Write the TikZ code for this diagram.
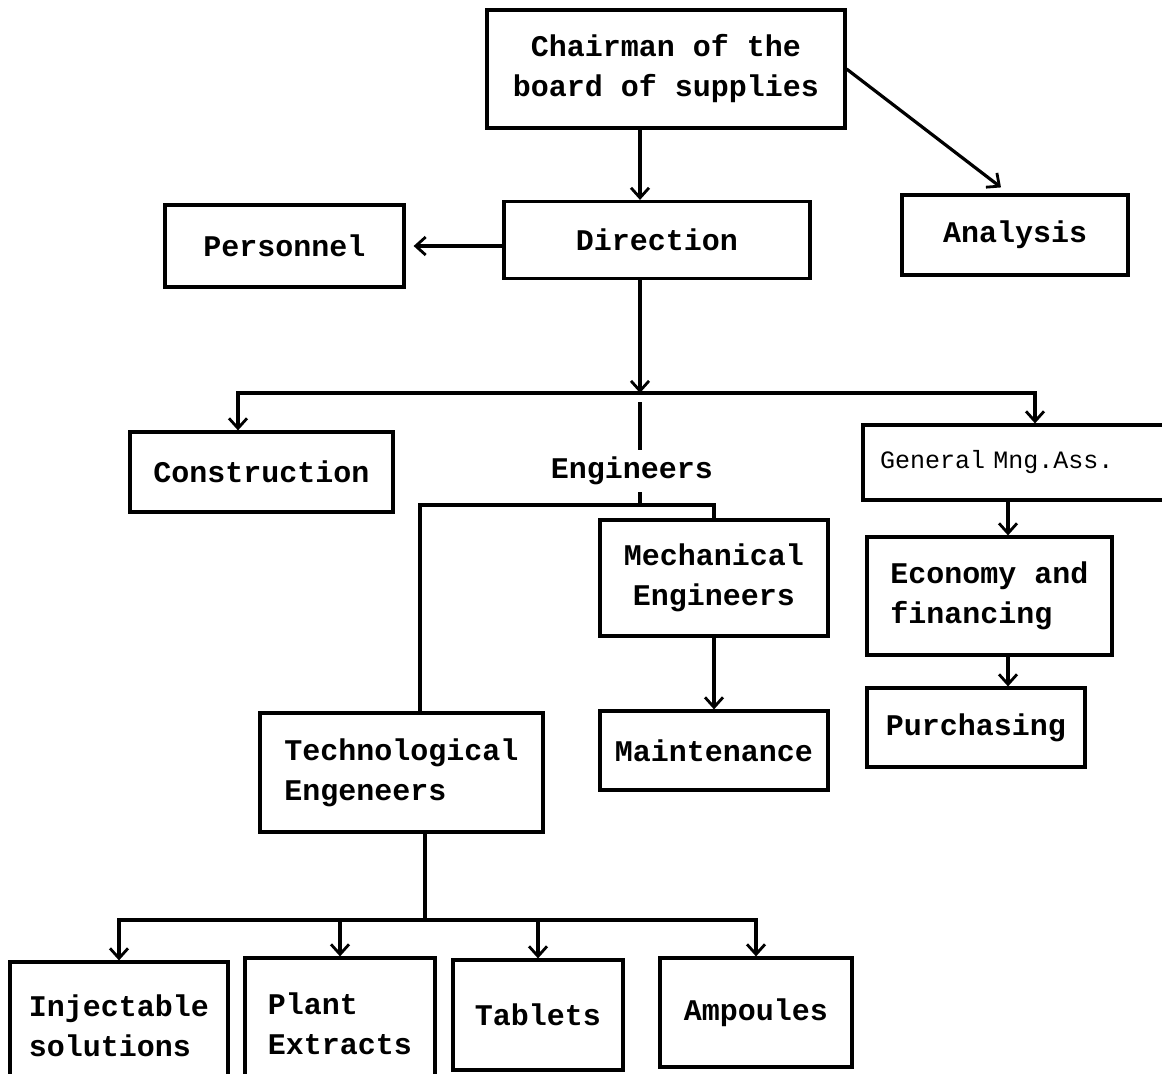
\documentclass[tikz,border=0pt]{standalone}
\usepackage{fontspec}
\setmainfont{Liberation Mono}
\usetikzlibrary{arrows.meta}

\begin{document}
\begin{tikzpicture}[x=0.5pt,y=-0.5pt,
  every node/.style={font=\bfseries\fontsize{15}{20}\selectfont, align=center},
  unit/.style={draw, line width=1.6pt, inner sep=0pt},
  link/.style={line width=1.6pt},
  arr/.style={link, -{Straight Barb[length=5pt,width=9pt,line width=1.4pt]}}]
  \useasboundingbox (0,0) rectangle (1162,1073);
  % top of the chart
  \node[unit, minimum width=179pt, minimum height=59pt] (chair) at (666,69) {Chairman of the\\board of supplies};
  \node[unit, minimum width=153pt, minimum height=38.5pt] (dir) at (657,240) {Direction};
  \node[unit, minimum width=119.5pt, minimum height=41pt] (pers) at (284.5,246) {Personnel};
  \node[unit, minimum width=113pt, minimum height=40pt] (ana) at (1015,235) {Analysis};
  % second level
  \node[unit, minimum width=131.5pt, minimum height=40pt] (constr) at (261.5,472) {Construction};
  \node (eng) at (632,471) {Engineers};
  \node[unit, minimum width=172pt, minimum height=37.5pt, text width=155pt, align=left,
    font=\mdseries\fontsize{12.5}{15}\selectfont] (gen) at (1035,462.5) {General Mng.Ass.};
  \node[unit, minimum width=114pt, minimum height=58pt] (mech) at (714,578) {Mechanical\\Engineers};
  \node[unit, minimum width=114pt, minimum height=39.5pt] (maint) at (714,750.5) {Maintenance};
  \node[unit, minimum width=141.5pt, minimum height=59.5pt, align=left] (tech) at (401.5,772.5) {Technological\\Engeneers};
  \node[unit, minimum width=122.5pt, minimum height=59pt, align=left] (econ) at (989.5,596) {Economy and\\financing};
  \node[unit, minimum width=109pt, minimum height=39.5pt] (purch) at (976,727.5) {Purchasing};
  % products
  \node[unit, minimum width=109pt, minimum height=64pt, align=left] (inj) at (119,1026) {Injectable\\solutions};
  \node[unit, minimum width=95pt, minimum height=66pt, align=left] (plant) at (340,1024) {Plant\\Extracts};
  \node[unit, minimum width=85pt, minimum height=55pt] (tab) at (538,1015) {Tablets};
  \node[unit, minimum width=96pt, minimum height=54.5pt] (amp) at (756,1012.5) {Ampoules};
  % bus points
  \coordinate (bus1) at (640,393);
  \coordinate (engtop) at (640,402);
  \coordinate (bus2) at (640,505);
  \coordinate (tdrop) at (420,505);
  \coordinate (cdrop) at (238,393);
  \coordinate (fcol) at (1008,600);
  \coordinate (bus3) at (425,920);
  % connectors
  \draw[arr] (chair.south -| bus1) -- (dir.north -| bus1);
  \draw[arr] (chair.east) -- ([shift={(-7pt,3pt)}]ana.north);
  \draw[arr, shorten >=4pt] (dir.west |- pers.east) -- (pers.east);
  \draw[arr] (dir.south -| bus1) -- (bus1);
  \draw[arr] (bus1) -| (cdrop |- constr.north);
  \draw[arr] (bus1) -| (gen.north);
  \draw[link] (engtop) -- (eng.north -| engtop);
  \draw[link] (eng.south -| bus2) -- (bus2);
  \draw[link] (tdrop |- tech.north) -- (tdrop) -| (mech.north);
  \draw[arr] (mech.south) -- (maint.north);
  \draw[arr] (gen.south -| fcol) -- (econ.north -| fcol);
  \draw[arr] (econ.south -| fcol) -- (purch.north -| fcol);
  \draw[link] (tech.south -| bus3) -- (bus3);
  \foreach \n in {inj,plant,tab,amp}
    \draw[arr] (bus3) -| (\n.north);
\end{tikzpicture}
\end{document}
